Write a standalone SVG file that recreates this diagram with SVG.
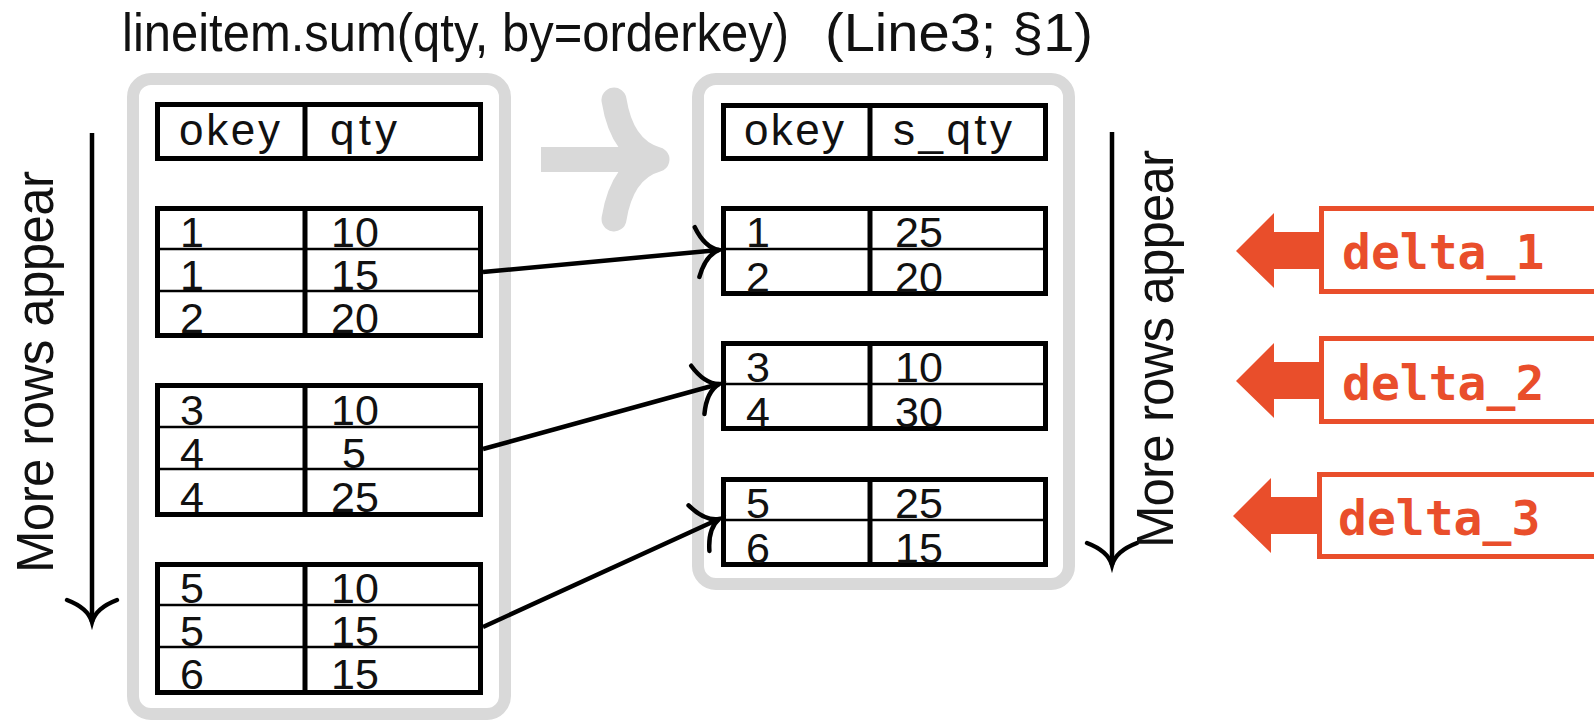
<svg xmlns="http://www.w3.org/2000/svg" width="1594" height="722" viewBox="0 0 1594 722">
  <style>
    .title { font-family: "Liberation Sans", Arial, sans-serif; font-size: 53px; fill: #111; }
    .hdr { font-family: "Liberation Sans", Arial, sans-serif; font-size: 44px; fill: #111; }
    .num { font-family: "Liberation Sans", Arial, sans-serif; font-size: 43px; fill: #111; }
    .side { font-family: "Liberation Sans", Arial, sans-serif; font-size: 51px; fill: #111; }
    .delta { font-family: "DejaVu Sans Mono", "Liberation Mono", monospace; font-weight: bold; font-size: 48px; fill: #e94e2b; }
    .frame { fill: none; stroke: #d9d9d9; stroke-width: 12; }
    .tbl { fill: #fff; stroke: #000; stroke-width: 5; }
    .div { stroke: #000; stroke-width: 5; }
    .row { stroke: #000; stroke-width: 2.5; }
    .link { fill: none; stroke: #000; stroke-width: 4.5; }
    .dbox { fill: #fff; stroke: #e94e2b; stroke-width: 5; }
    .darrow { fill: #e94e2b; }
  </style>
  <defs>
    <marker id="tip" markerUnits="userSpaceOnUse" viewBox="-26 -28 30 56" markerWidth="30" markerHeight="56" refX="0" refY="0" orient="auto" overflow="visible">
      <path d="M -22 -25 Q -14 -4 0 0 Q -14 4 -22 25" fill="none" stroke="#000" stroke-width="4.5" stroke-linecap="round"/>
    </marker>
  </defs>

  <rect width="1594" height="722" fill="#fff"/>

  <!-- heading -->
  <g id="title">
    <text class="title" x="122" y="51" textLength="667" lengthAdjust="spacingAndGlyphs">lineitem.sum(qty, by=orderkey)</text>
    <text class="title" x="825" y="51" textLength="268" lengthAdjust="spacingAndGlyphs">(Line3; §1)</text>
  </g>

  <!-- big grey "becomes" arrow -->
  <g id="transform-arrow" fill="none" stroke="#d9d9d9" stroke-width="25">
    <line x1="541" y1="159.5" x2="657" y2="159.5"/>
    <path d="M 614 100 Q 622 150 657 159.5 Q 622 169 614 219" stroke-linecap="round" stroke-linejoin="round"/>
  </g>

  <!-- input table: lineitem -->
  <g id="lineitem">
    <rect class="frame" x="133" y="79" width="372" height="635" rx="18"/>
    <g id="lineitem-header">
      <rect class="tbl" x="157.5" y="104.5" width="323" height="54"/>
      <line class="div" x1="305" y1="102" x2="305" y2="161"/>
      <text class="hdr" x="179" y="145" textLength="101">okey</text>
      <text class="hdr" x="330" y="145" textLength="67">qty</text>
    </g>
    <g id="lineitem-batch1" transform="translate(0,206)">
      <rect class="tbl" x="157.5" y="2.5" width="323" height="127"/>
      <line class="row" x1="155" y1="43" x2="483" y2="43"/>
      <line class="row" x1="155" y1="85" x2="483" y2="85"/>
      <line class="div" x1="305" y1="0" x2="305" y2="132"/>
      <text class="num" x="180" y="41">1</text><text class="num" x="331" y="41">10</text>
      <text class="num" x="180" y="84">1</text><text class="num" x="331" y="84">15</text>
      <text class="num" x="180" y="127">2</text><text class="num" x="331" y="127">20</text>
    </g>
    <g id="lineitem-batch2" transform="translate(0,383)">
      <rect class="tbl" x="157.5" y="2.5" width="323" height="129"/>
      <line class="row" x1="155" y1="44" x2="483" y2="44"/>
      <line class="row" x1="155" y1="86" x2="483" y2="86"/>
      <line class="div" x1="305" y1="0" x2="305" y2="134"/>
      <text class="num" x="180" y="42">3</text><text class="num" x="331" y="42">10</text>
      <text class="num" x="180" y="85">4</text><text class="num" x="342" y="85">5</text>
      <text class="num" x="180" y="129">4</text><text class="num" x="331" y="129">25</text>
    </g>
    <g id="lineitem-batch3" transform="translate(0,562)">
      <rect class="tbl" x="157.5" y="2.5" width="323" height="128"/>
      <line class="row" x1="155" y1="43" x2="483" y2="43"/>
      <line class="row" x1="155" y1="85" x2="483" y2="85"/>
      <line class="div" x1="305" y1="0" x2="305" y2="133"/>
      <text class="num" x="180" y="41">5</text><text class="num" x="331" y="41">10</text>
      <text class="num" x="180" y="84">5</text><text class="num" x="331" y="84">15</text>
      <text class="num" x="180" y="127">6</text><text class="num" x="331" y="127">15</text>
    </g>
  </g>

  <!-- output table: per-order sums -->
  <g id="sums">
    <rect class="frame" x="698" y="79" width="371" height="505" rx="18"/>
    <g id="sums-header">
      <rect class="tbl" x="723.5" y="105.5" width="322" height="53"/>
      <line class="div" x1="870" y1="103" x2="870" y2="161"/>
      <text class="hdr" x="744" y="145" textLength="100">okey</text>
      <text class="hdr" x="893" y="145" textLength="119">s_qty</text>
    </g>
    <g id="sums-batch1" transform="translate(0,206)">
      <rect class="tbl" x="723.5" y="2.5" width="322" height="85"/>
      <line class="row" x1="721" y1="43" x2="1048" y2="43"/>
      <line class="div" x1="870" y1="0" x2="870" y2="90"/>
      <text class="num" x="746" y="41">1</text><text class="num" x="895" y="41">25</text>
      <text class="num" x="746" y="86">2</text><text class="num" x="895" y="86">20</text>
    </g>
    <g id="sums-batch2" transform="translate(0,341)">
      <rect class="tbl" x="723.5" y="2.5" width="322" height="85"/>
      <line class="row" x1="721" y1="43" x2="1048" y2="43"/>
      <line class="div" x1="870" y1="0" x2="870" y2="90"/>
      <text class="num" x="746" y="41">3</text><text class="num" x="895" y="41">10</text>
      <text class="num" x="746" y="86">4</text><text class="num" x="895" y="86">30</text>
    </g>
    <g id="sums-batch3" transform="translate(0,477)">
      <rect class="tbl" x="723.5" y="2.5" width="322" height="85"/>
      <line class="row" x1="721" y1="43" x2="1048" y2="43"/>
      <line class="div" x1="870" y1="0" x2="870" y2="90"/>
      <text class="num" x="746" y="41">5</text><text class="num" x="895" y="41">25</text>
      <text class="num" x="746" y="86">6</text><text class="num" x="895" y="86">15</text>
    </g>
  </g>

  <!-- time axes -->
  <g id="axis-left">
    <line class="link" x1="92" y1="133" x2="92" y2="622" marker-end="url(#tip)"/>
    <text class="side" transform="translate(53,573) rotate(-90)" textLength="402">More rows appear</text>
  </g>
  <g id="axis-right">
    <line class="link" x1="1112" y1="132" x2="1112" y2="565" marker-end="url(#tip)"/>
    <text class="side" transform="translate(1173,548) rotate(-90)" textLength="398">More rows appear</text>
  </g>

  <!-- delta batches -->
  <g id="delta-1">
    <polygon class="darrow" points="1236,251 1274,213 1274,232 1322,232 1322,269 1274,269 1274,288"/>
    <rect class="dbox" x="1321.5" y="208.5" width="300" height="83"/>
    <text class="delta" x="1342" y="269">delta_1</text>
  </g>
  <g id="delta-2">
    <polygon class="darrow" points="1236,381 1274,343 1274,362 1322,362 1322,399 1274,399 1274,418"/>
    <rect class="dbox" x="1321.5" y="338.5" width="300" height="83"/>
    <text class="delta" x="1342" y="400">delta_2</text>
  </g>
  <g id="delta-3">
    <polygon class="darrow" points="1233,516 1271,478 1271,497 1320,497 1320,534 1271,534 1271,553"/>
    <rect class="dbox" x="1319.5" y="474.5" width="300" height="82"/>
    <text class="delta" x="1338" y="535">delta_3</text>
  </g>

  <!-- batch-to-result connectors -->
  <g id="connectors">
    <line class="link" x1="483" y1="272" x2="719" y2="250" marker-end="url(#tip)"/>
    <line class="link" x1="483" y1="449" x2="719" y2="384" marker-end="url(#tip)"/>
    <line class="link" x1="483" y1="627" x2="719" y2="519" marker-end="url(#tip)"/>
  </g>
</svg>
